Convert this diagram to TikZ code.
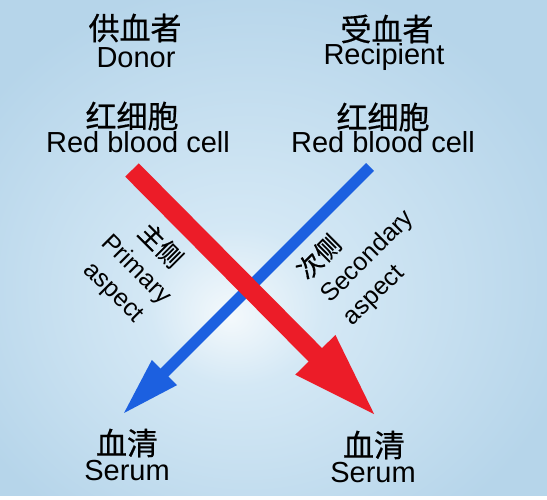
\documentclass[tikz,border=0pt]{standalone}
\usepackage{fontspec}
\setmainfont{Liberation Sans}
\newfontfamily\cjk[FakeBold=0.6]{Noto Sans CJK SC}
\usetikzlibrary{arrows.meta}
\definecolor{bgc}{RGB}{244,249,252}
\definecolor{bgm}{RGB}{212,232,245}
\definecolor{bge}{RGB}{182,213,234}
\definecolor{redc}{RGB}{236,28,40}
\definecolor{bluec}{RGB}{28,96,224}
\pgfdeclareradialshading{glow}{\pgfpoint{-4bp}{-7bp}}{color(0bp)=(bgc); color(8bp)=(bgm); color(30bp)=(bge); color(50bp)=(bge)}
\tikzset{
  zh/.style     ={font=\cjk\fontsize{31}{33}\selectfont, inner sep=0pt},
  en/.style     ={font=\fontsize{29}{31}\selectfont, inner sep=0pt, anchor=base},
  side/.style   ={font=\fontsize{25}{32}\selectfont, inner sep=0pt},
  redarr/.style ={draw=redc, line width=19pt, -{Triangle[length=89pt,width=50pt]}},
  bluearr/.style={draw=bluec, line width=11pt, -{Triangle[length=60pt,width=32pt]}},
}

\begin{document}
\begin{tikzpicture}[x=1pt, y=-1pt]
  \useasboundingbox (0,0) rectangle (547,500);
  \shade[shading=glow] (0,0) rectangle (547,496);
  \fill[white] (0,496) rectangle (547,500);

  % donor / recipient
  \node[zh] (donorzh) at (135,28) {供血者};
  \node[en] (donor) at (136,68) {Donor};
  \node[zh] (recipzh) at (387,29) {受血者};
  \node[en] (recip) at (384,65) {Recipient};

  % red blood cells
  \node[zh] (rbclzh) at (132,116) {红细胞};
  \node[en] (rbcl) at (138,153) {Red blood cell};
  \node[zh] (rbcrzh) at (383,117) {红细胞};
  \node[en] (rbcr) at (383,153) {Red blood cell};

  % serum
  \node[zh] (serlzh) at (127,443) {血清};
  \node[en] (serl) at (127,480) {Serum};
  \node[zh] (serrzh) at (374,445) {血清};
  \node[en] (serr) at (373,482) {Serum};

  % cross-match arrows
  \coordinate (btail) at (370,167);
  \coordinate (btip) at (122,415);
  \coordinate (rtail) at (132,170);
  \coordinate (rtip) at (378,418);
  \draw[bluearr] (btail) -- (btip);
  \draw[redarr] (rtail) -- (rtip);

  \node[side, rotate=-45, align=center] (primary) at (137,269) {{\cjk 主侧}\\Primary\\aspect};
  \node[side, rotate=45, align=left] (secondary) at (367,256) {{\cjk 次侧}\\Secondary\\aspect};
\end{tikzpicture}
\end{document}
